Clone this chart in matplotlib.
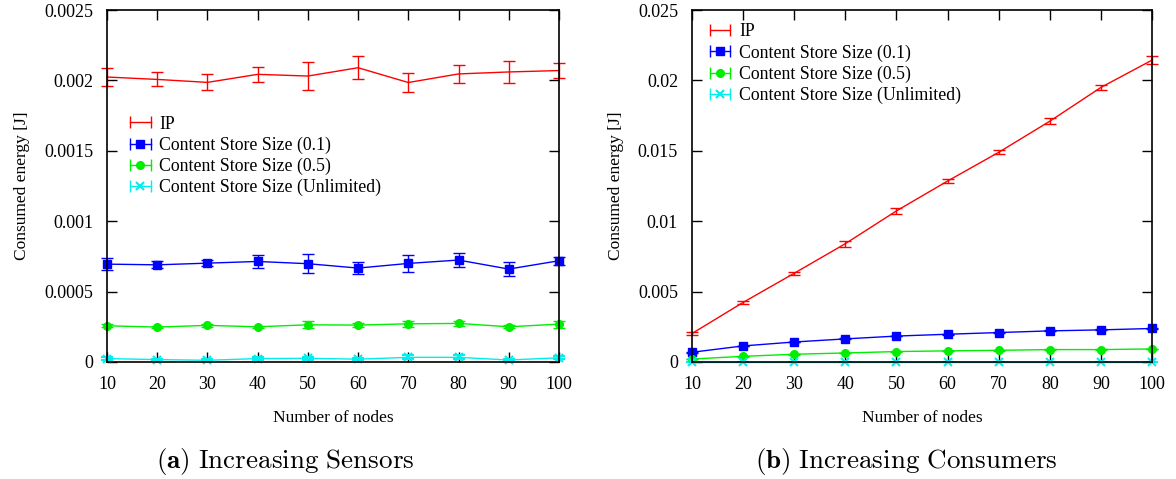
import matplotlib
matplotlib.use("Agg")
import matplotlib.pyplot as plt
from matplotlib.lines import Line2D
from matplotlib.legend_handler import HandlerLine2D, HandlerTuple
from matplotlib.ticker import FuncFormatter, MultipleLocator

plt.rcParams['font.family'] = ['Liberation Serif', 'DejaVu Serif']
plt.rcParams['mathtext.fontset'] = 'cm'

nodes = [10, 20, 30, 40, 50, 60, 70, 80, 90, 100]

# (a) Increasing Sensors
sens_ip = [0.002024, 0.002007, 0.001986, 0.002043, 0.002031, 0.00209, 0.001985, 0.002046, 0.00206, 0.00207]
sens_ip_err = [0.000064, 0.00005, 0.000056, 0.000053, 0.0001, 0.00008, 0.000065, 0.000065, 0.000075, 0.000052]
sens_cs01 = [0.000695, 0.00069, 0.000702, 0.000714, 0.000698, 0.000667, 0.0007, 0.000724, 0.00066, 0.000719]
sens_cs01_err = [0.000045, 0.000024, 0.00002, 0.000045, 0.000067, 0.000045, 0.00006, 0.00005, 0.00005, 0.00003]
sens_cs05 = [0.000257, 0.000248, 0.00026, 0.00025, 0.000264, 0.000262, 0.000271, 0.000274, 0.00025, 0.000269]
sens_cs05_err = [0.00001, 0.000008, 0.000008, 0.000008, 0.000025, 0.000012, 0.00002, 0.000018, 0.00001, 0.000025]
sens_unl = [0.000024, 0.000017, 0.000012, 0.000024, 0.000026, 0.00002, 0.000033, 0.000033, 0.000014, 0.00003]
sens_unl_err = [0.000008, 0.000006, 0.000006, 0.00001, 0.000012, 0.000008, 0.000015, 0.000015, 0.000006, 0.00001]

# (b) Increasing Consumers
cons_ip = [0.00202, 0.00423, 0.0063, 0.0084, 0.01073, 0.01285, 0.01489, 0.0171, 0.0195, 0.02144]
cons_ip_err = [0.00008, 0.0001, 0.00012, 0.0002, 0.0002, 0.00015, 0.00015, 0.0002, 0.0002, 0.0003]
cons_cs01 = [0.00069, 0.00114, 0.00142, 0.00164, 0.00184, 0.00197, 0.00209, 0.00221, 0.00228, 0.00238]
cons_cs01_err = [0.00003, 0.00003, 0.00003, 0.00003, 0.00003, 0.00003, 0.00003, 0.00003, 0.00003, 0.00003]
cons_cs05 = [0.00021, 0.0004, 0.00055, 0.00064, 0.00074, 0.00079, 0.00083, 0.00088, 0.00088, 0.000926]
cons_cs05_err = [0.00002, 0.00002, 0.00002, 0.00002, 0.00002, 0.00002, 0.00002, 0.00002, 0.00002, 0.00002]
cons_unl = [0.00001, 0.00001, 0.00001, 0.00001, 0.00001, 0.00001, 0.00001, 0.00001, 0.00001, 0.00001]
cons_unl_err = [0.000005, 0.000005, 0.000005, 0.000005, 0.000005, 0.000005, 0.000005, 0.000005, 0.000005, 0.000005]

labels = ["IP", "Content Store Size (0.1)", "Content Store Size (0.5)", "Content Store Size (Unlimited)"]
colors = ["#ff0000", "#0000ff", "#00ee00", "#00eeee"]
markers = ["None", "s", "o", "x"]
msizes = [0, 6, 5.5, 6]

fig = plt.figure(figsize=(11.76, 4.79), dpi=100)
ax1 = fig.add_axes([0.091, 0.2443, 0.3843, 0.7348])
ax2 = fig.add_axes([0.5884, 0.2443, 0.3912, 0.7348])


def draw(ax, series, ymax, ystep, legend_loc):
    handles = []
    hmap = {}
    for (vals, errs), lab, c, m, ms in zip(series, labels, colors, markers, msizes):
        ax.errorbar(nodes, vals, yerr=errs, color=c, marker=m, markersize=ms,
                    markeredgewidth=1.5 if m == "x" else 1, linewidth=1,
                    elinewidth=1, capsize=4, capthick=1, clip_on=False)
        # gnuplot style key: horizontal bar with end caps and the point in the middle
        cap = Line2D([], [], color=c, marker="|", markersize=9, markeredgewidth=1, linewidth=1)
        mk = Line2D([], [], color=c, marker=m, markersize=ms,
                    markeredgewidth=1.5 if m == "x" else 1, linestyle="None")
        hmap[cap] = HandlerLine2D(numpoints=2, marker_pad=0)
        hmap[mk] = HandlerLine2D(numpoints=1)
        handles.append((cap, mk))
    ax.set_xlim(10, 100)
    ax.set_ylim(0, ymax)
    ax.xaxis.set_major_locator(MultipleLocator(10))
    ax.yaxis.set_major_locator(MultipleLocator(ystep))
    ax.yaxis.set_major_formatter(FuncFormatter(lambda v, p: "%g" % round(v, 6)))
    ax.tick_params(direction="in", length=7, width=1, top=True, right=True,
                   labelsize=13, pad=10)
    for s in ax.spines.values():
        s.set_linewidth(1.2)
    ax.set_xlabel("Number of nodes", fontsize=12.5, labelpad=12)
    ax.set_ylabel("Consumed energy [J]", fontsize=12.5, labelpad=10)
    hmap[tuple] = HandlerTuple(ndivide=1, pad=0)
    ax.legend(handles=handles, labels=labels, handler_map=hmap,
              loc="upper left", bbox_to_anchor=legend_loc,
              frameon=False, fontsize=12.8, handlelength=1.15, handletextpad=0.5,
              labelspacing=0.22, borderaxespad=0, borderpad=0)


draw(ax1, [(sens_ip, sens_ip_err), (sens_cs01, sens_cs01_err),
           (sens_cs05, sens_cs05_err), (sens_unl, sens_unl_err)],
     0.0025, 0.0005, (0.051, 0.70))
draw(ax2, [(cons_ip, cons_ip_err), (cons_cs01, cons_cs01_err),
           (cons_cs05, cons_cs05_err), (cons_unl, cons_unl_err)],
     0.025, 0.005, (0.039, 0.962))

fig.text(0.2423, 0.024, r"$\mathbf{(a)}\ \mathrm{Increasing\ Sensors}$", ha="center", fontsize=19.5)
fig.text(0.7704, 0.024, r"$\mathbf{(b)}\ \mathrm{Increasing\ Consumers}$", ha="center", fontsize=19.5)

fig.savefig("out.png", dpi=100)
